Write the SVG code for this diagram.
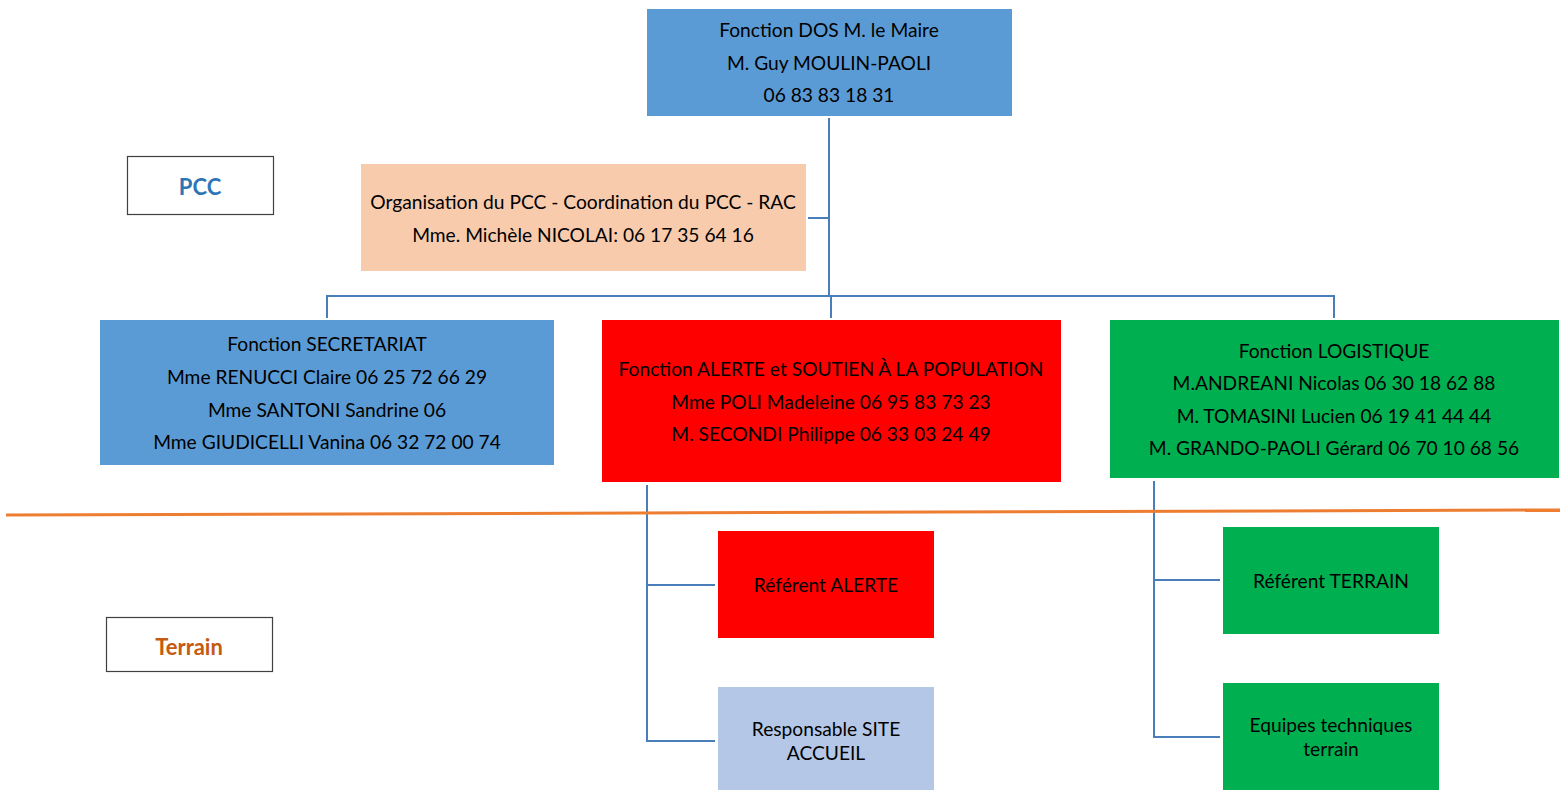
<svg xmlns="http://www.w3.org/2000/svg" width="1560" height="790" viewBox="0 0 1560 790">
<style>
text{font-family:Lato,"Carlito","Liberation Sans",sans-serif;font-size:19.2px;fill:#000;text-anchor:middle;dominant-baseline:central}
.c{fill:none;stroke:#4A7EBB;stroke-width:2}
.lbl{font-weight:bold;font-size:22px}
</style>
<rect width="1560" height="790" fill="#fff"/>
<g id="connectors">
<polyline class="c" points="829,118 829,296"/>
<polyline class="c" points="808,218 829,218"/>
<polyline class="c" points="327,318 327,296 1334,296 1334,318"/>
<polyline class="c" points="831,296 831,318"/>
<polyline class="c" points="715,585 647,585 647,485"/>
<polyline class="c" points="647,585 647,741 715,741"/>
<polyline class="c" points="1220,580 1154,580 1154,481"/>
<polyline class="c" points="1154,580 1154,737 1220,737"/>
</g>
<g id="separator"><line x1="6" y1="515" x2="1560" y2="510" stroke="#ED7D31" stroke-width="3"/></g>
<g id="pcc"><rect x="127.5" y="156.5" width="146" height="58" fill="#fff" stroke="#404040" stroke-width="1.2"/><text class="lbl" x="200" y="186" style="fill:#2E75B6">PCC</text></g>
<g id="terrain"><rect x="106.5" y="617.5" width="166" height="54" fill="#fff" stroke="#404040" stroke-width="1.2"/><text class="lbl" x="189" y="646" style="fill:#C55A11">Terrain</text></g>
<g id="dos"><rect x="647" y="9" width="365" height="107" fill="#5B9BD5"/>
<text x="829" y="29">Fonction DOS M. le Maire</text><text x="829" y="62">M. Guy MOULIN-PAOLI</text><text x="829" y="94">06 83 83 18 31</text></g>
<g id="organisation"><rect x="361" y="164" width="445" height="107" fill="#F8CBAD"/>
<text x="583" y="201">Organisation du PCC - Coordination du PCC - RAC</text><text x="583" y="234">Mme. Michèle NICOLAI: 06 17 35 64 16</text></g>
<g id="secretariat"><rect x="100" y="320" width="454" height="145" fill="#5B9BD5"/>
<text x="327" y="343">Fonction SECRETARIAT</text><text x="327" y="376">Mme RENUCCI Claire 06 25 72 66 29</text><text x="327" y="409">Mme SANTONI Sandrine 06</text><text x="327" y="441">Mme GIUDICELLI Vanina 06 32 72 00 74</text></g>
<g id="alerte"><rect x="602" y="320" width="459" height="162" fill="#FF0000"/>
<text x="831" y="368">Fonction ALERTE et SOUTIEN À LA POPULATION</text><text x="831" y="401">Mme POLI Madeleine 06 95 83 73 23</text><text x="831" y="433">M. SECONDI Philippe 06 33 03 24 49</text></g>
<g id="logistique"><rect x="1110" y="320" width="449" height="158" fill="#00B050"/>
<text x="1334" y="350">Fonction LOGISTIQUE</text><text x="1334" y="382">M.ANDREANI Nicolas 06 30 18 62 88</text><text x="1334" y="415">M. TOMASINI Lucien 06 19 41 44 44</text><text x="1334" y="447">M. GRANDO-PAOLI Gérard 06 70 10 68 56</text></g>
<g id="referent-alerte"><rect x="718" y="531" width="216" height="107" fill="#FF0000"/><text x="826" y="584">Référent ALERTE</text></g>
<g id="responsable-site"><rect x="718" y="687" width="216" height="110" fill="#B4C7E7"/><text x="826" y="728">Responsable SITE</text><text x="826" y="752">ACCUEIL</text></g>
<g id="referent-terrain"><rect x="1223" y="527" width="216" height="107" fill="#00B050"/><text x="1331" y="580">Référent TERRAIN</text></g>
<g id="equipes"><rect x="1223" y="683" width="216" height="110" fill="#00B050"/><text x="1331" y="724">Equipes techniques</text><text x="1331" y="748">terrain</text></g>
</svg>
